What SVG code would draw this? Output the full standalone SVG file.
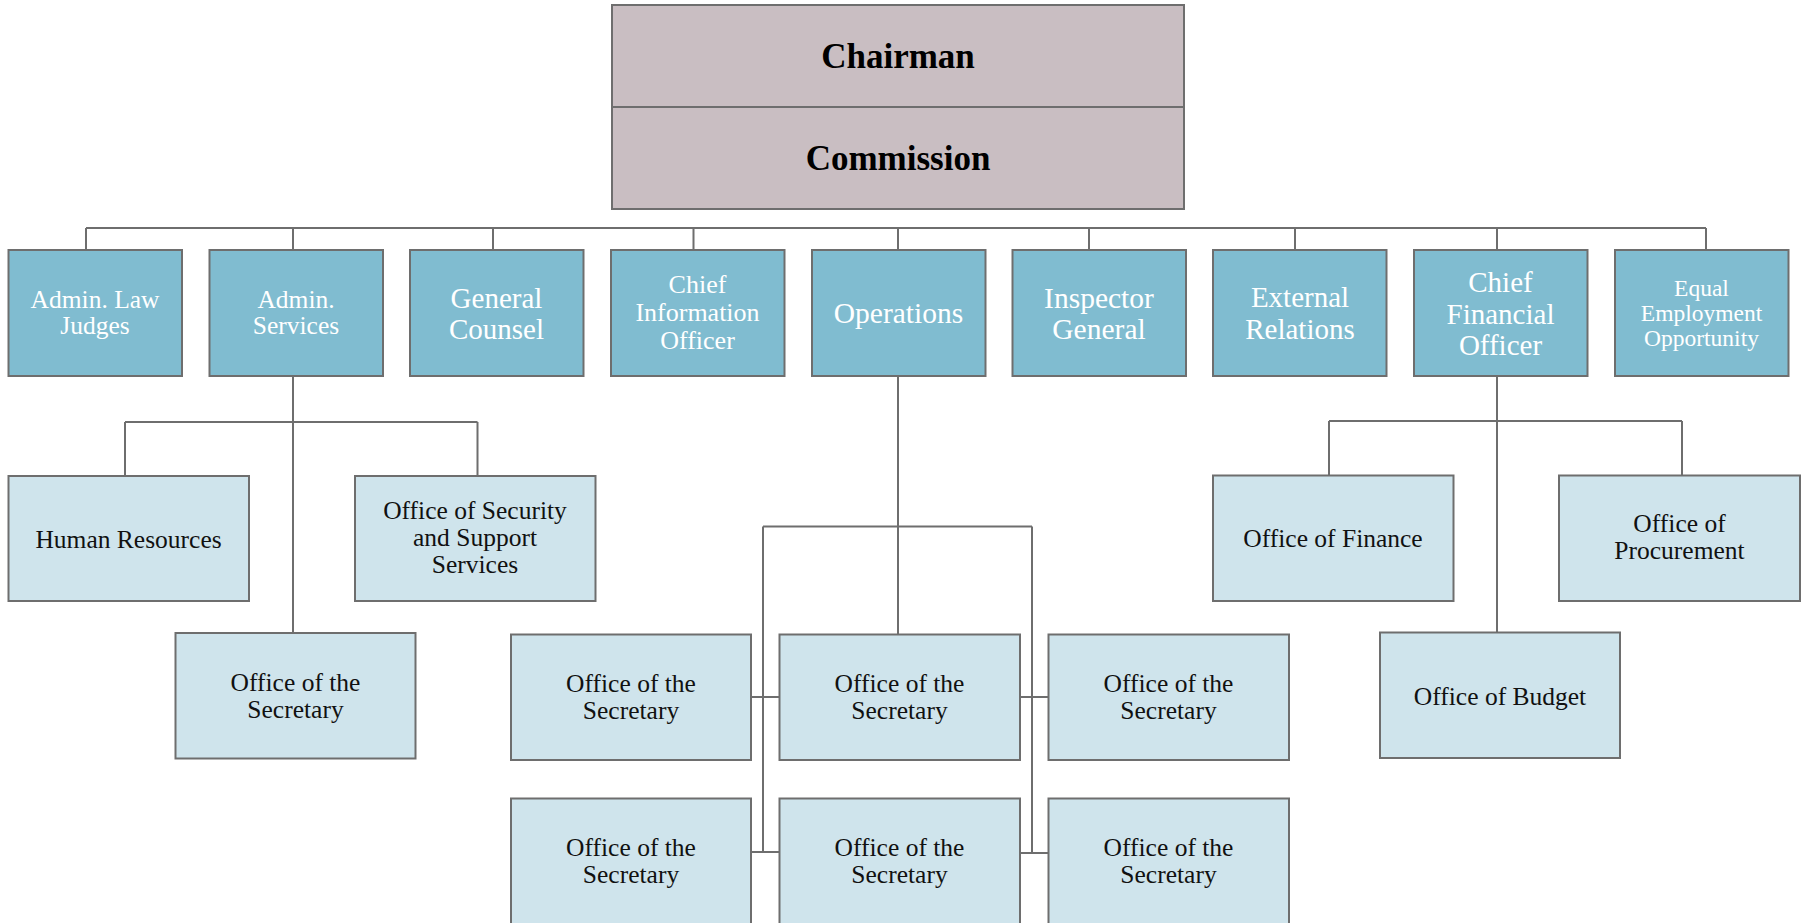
<svg xmlns="http://www.w3.org/2000/svg" width="1805" height="923" viewBox="0 0 1805 923">
<style>
.top{fill:#c9bec2;stroke:#6e6e6e;stroke-width:2}
.l1{fill:#80bcd0;stroke:#6e6e6e;stroke-width:2}
.l2{fill:#cfe4ec;stroke:#6e6e6e;stroke-width:2}
.conn{fill:none;stroke:#6e6e6e;stroke-width:2}
text{font-family:"Liberation Serif","Times New Roman",serif;text-anchor:middle}
.tb{font-weight:bold;font-size:35px;fill:#000}
.tw{fill:#ffffff}
.tk{fill:#111;font-size:25.5px}
</style>
<g id="connectors">
<path class="conn" d="M86,228 H1706 M86,228 V250 M293,228 V250 M493,228 V250 M693.5,228 V250 M898,228 V250 M1089,228 V250 M1295,228 V250 M1497,228 V250 M1706,228 V250"/>
<path class="conn" d="M293,376 V633 M125,422 H477.5 M125,422 V476 M477.5,422 V476"/>
<path class="conn" d="M898,376 V634.5 M763,526.5 H1032 M763,526.5 V852 M1032,526.5 V853 M751,697 H779.5 M751,852 H779.5 M1020,697 H1048.5 M1020,853 H1048.5"/>
<path class="conn" d="M1497,376 V632.5 M1329,421 H1682 M1329,421 V475.5 M1682,421 V475.5"/>
</g>
<g id="chairman">
<rect class="top" x="612" y="5" width="572" height="102"/>
<text class="tb" x="898" y="68">Chairman</text>
</g>
<g id="commission">
<rect class="top" x="612" y="107" width="572" height="102"/>
<text class="tb" x="898" y="170">Commission</text>
</g>
<g id="admin-law-judges">
<rect class="l1" x="8.5" y="250" width="173.5" height="126"/>
<text class="tw" x="95" y="308" font-size="25.5">Admin. Law</text>
<text class="tw" x="95" y="334" font-size="25.5">Judges</text>
</g>
<g id="admin-services">
<rect class="l1" x="209.5" y="250" width="173.5" height="126"/>
<text class="tw" x="296" y="308" font-size="25.5">Admin.</text>
<text class="tw" x="296" y="334" font-size="25.5">Services</text>
</g>
<g id="general-counsel">
<rect class="l1" x="410" y="250" width="173.5" height="126"/>
<text class="tw" x="496.5" y="308" font-size="29">General</text>
<text class="tw" x="496.5" y="339" font-size="29">Counsel</text>
</g>
<g id="cio">
<rect class="l1" x="611" y="250" width="173.5" height="126"/>
<text class="tw" x="697.5" y="293" font-size="26">Chief</text>
<text class="tw" x="697.5" y="321" font-size="26">Information</text>
<text class="tw" x="697.5" y="349" font-size="26">Officer</text>
</g>
<g id="operations">
<rect class="l1" x="812" y="250" width="173.5" height="126"/>
<text class="tw" x="898.5" y="323" font-size="29.5">Operations</text>
</g>
<g id="inspector-general">
<rect class="l1" x="1012.5" y="250" width="173.5" height="126"/>
<text class="tw" x="1099" y="308" font-size="29.5">Inspector</text>
<text class="tw" x="1099" y="339" font-size="29.5">General</text>
</g>
<g id="external-relations">
<rect class="l1" x="1213" y="250" width="173.5" height="126"/>
<text class="tw" x="1300" y="307" font-size="29">External</text>
<text class="tw" x="1300" y="339" font-size="29">Relations</text>
</g>
<g id="cfo">
<rect class="l1" x="1414" y="250" width="173.5" height="126"/>
<text class="tw" x="1500.5" y="292" font-size="29">Chief</text>
<text class="tw" x="1500.5" y="323.5" font-size="29">Financial</text>
<text class="tw" x="1500.5" y="355" font-size="29">Officer</text>
</g>
<g id="eeo">
<rect class="l1" x="1615" y="250" width="173.5" height="126"/>
<text class="tw" x="1701.5" y="296" font-size="23.5">Equal</text>
<text class="tw" x="1701.5" y="321" font-size="23.5">Employment</text>
<text class="tw" x="1701.5" y="346" font-size="23.5">Opportunity</text>
</g>
<g id="human-resources">
<rect class="l2" x="8.5" y="476" width="240.5" height="125"/>
<text class="tk" x="128.5" y="547.5">Human Resources</text>
</g>
<g id="security-support">
<rect class="l2" x="355" y="476" width="240.5" height="125"/>
<text class="tk" x="475" y="519">Office of Security</text>
<text class="tk" x="475" y="546">and Support</text>
<text class="tk" x="475" y="573">Services</text>
</g>
<g id="secretary-admin">
<rect class="l2" x="175.5" y="633" width="240" height="125.5"/>
<text class="tk" x="295.5" y="690.5">Office of the</text>
<text class="tk" x="295.5" y="717.5">Secretary</text>
</g>
<g id="secretary-ops-1">
<rect class="l2" x="511" y="634.5" width="240" height="125.5"/>
<text class="tk" x="631" y="691.5">Office of the</text>
<text class="tk" x="631" y="719">Secretary</text>
</g>
<g id="secretary-ops-2">
<rect class="l2" x="779.5" y="634.5" width="240.5" height="125.5"/>
<text class="tk" x="899.5" y="691.5">Office of the</text>
<text class="tk" x="899.5" y="719">Secretary</text>
</g>
<g id="secretary-ops-3">
<rect class="l2" x="1048.5" y="634.5" width="240.5" height="125.5"/>
<text class="tk" x="1168.5" y="691.5">Office of the</text>
<text class="tk" x="1168.5" y="719">Secretary</text>
</g>
<g id="secretary-ops-4">
<rect class="l2" x="511" y="798.5" width="240" height="140"/>
<text class="tk" x="631" y="855.5">Office of the</text>
<text class="tk" x="631" y="883">Secretary</text>
</g>
<g id="secretary-ops-5">
<rect class="l2" x="779.5" y="798.5" width="240.5" height="140"/>
<text class="tk" x="899.5" y="855.5">Office of the</text>
<text class="tk" x="899.5" y="883">Secretary</text>
</g>
<g id="secretary-ops-6">
<rect class="l2" x="1048.5" y="798.5" width="240.5" height="140"/>
<text class="tk" x="1168.5" y="855.5">Office of the</text>
<text class="tk" x="1168.5" y="883">Secretary</text>
</g>
<g id="office-finance">
<rect class="l2" x="1213" y="475.5" width="240.5" height="125.5"/>
<text class="tk" x="1333" y="547">Office of Finance</text>
</g>
<g id="office-procurement">
<rect class="l2" x="1559" y="475.5" width="241" height="125.5"/>
<text class="tk" x="1679.5" y="532">Office of</text>
<text class="tk" x="1679.5" y="559">Procurement</text>
</g>
<g id="office-budget">
<rect class="l2" x="1380" y="632.5" width="240" height="125.5"/>
<text class="tk" x="1500" y="705">Office of Budget</text>
</g>
</svg>
